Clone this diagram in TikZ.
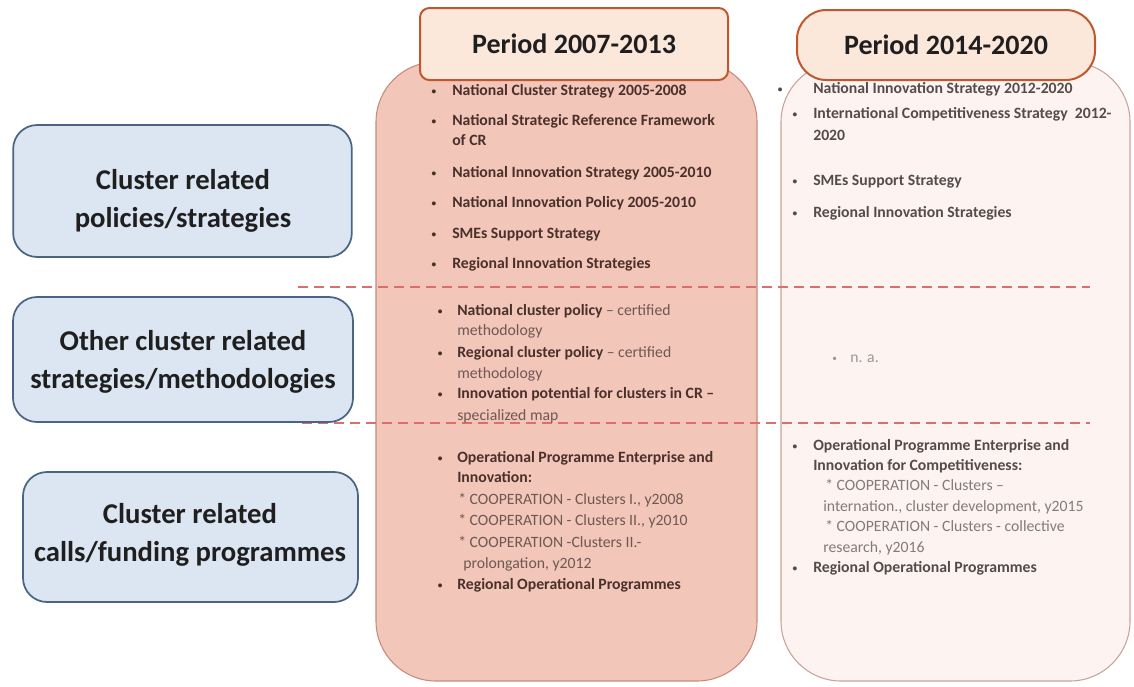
\documentclass[tikz,border=0pt]{standalone}
\usepackage{fontspec}
\setmainfont{Carlito}
\definecolor{midfill}{HTML}{F2C6B8}
\definecolor{midline}{HTML}{C98A7E}
\definecolor{rfill}{HTML}{FDF3F0}
\definecolor{rline}{HTML}{C9A39A}
\definecolor{hfill}{HTML}{FCE7DB}
\definecolor{hline}{HTML}{C0582F}
\definecolor{cfill}{HTML}{DCE6F2}
\definecolor{cline}{HTML}{4A6584}
\definecolor{dashcol}{HTML}{DD6E6E}
\definecolor{mbold}{HTML}{4A302B}
\definecolor{mnorm}{HTML}{6E5853}
\definecolor{rbold}{HTML}{554B48}
\definecolor{rnorm}{HTML}{857A77}
\definecolor{rna}{HTML}{A0948F}
\newcommand{\bul}[1]{\llap{{\fontsize{7}{7}\selectfont\raisebox{0.6pt}{\textbullet}}\hspace{#1}}}
\begin{document}
\begin{tikzpicture}[x=0.75pt,y=-0.75pt,
  bigmid/.style={fill=midfill,draw=midline,line width=0.8pt,rounded corners=45pt},
  bigright/.style={fill=rfill,draw=rline,line width=0.8pt,rounded corners=45pt},
  dashline/.style={draw=dashcol,line width=1.9pt,dash pattern=on 7.5pt off 4.5pt},
  catbox/.style={fill=cfill,draw=cline,line width=1.3pt,rounded corners=18pt,inner sep=0pt},
  cattext/.style={align=center,inner sep=0pt,font=\fontsize{21.5}{28.5}\selectfont\bfseries,text=black!88},
  headbox/.style={fill=hfill,draw=hline,line width=1.5pt,inner sep=0pt,font=\fontsize{21}{25}\selectfont\bfseries,text=black!88},
  mb/.style={anchor=base west,inner sep=0pt,font=\fontsize{11.8}{14}\selectfont\bfseries,text=mbold},
  mn/.style={anchor=base west,inner sep=0pt,font=\fontsize{11.8}{14}\selectfont,text=mnorm},
  rb/.style={anchor=base west,inner sep=0pt,font=\fontsize{11.8}{14}\selectfont\bfseries,text=rbold},
  rn/.style={anchor=base west,inner sep=0pt,font=\fontsize{11.8}{14}\selectfont,text=rnorm}]
\useasboundingbox (0,0) rectangle (1134,686);
\fill[white] (0,0) rectangle (1134,686);

% big column shapes
\draw[bigmid] (376,62) rectangle (757,681);
\draw[bigright] (781,62) rectangle (1130,681);

% dashed separators
\coordinate (d1a) at (298,287);
\coordinate (d1b) at (1090,287);
\coordinate (d2a) at (302,423);
\coordinate (d2b) at (1090,423);
\draw[dashline] (d1a) -- (d1b);
\draw[dashline] (d2a) -- (d2b);

% middle column texts
\node[mb] (m1) at (452,95) {\bul{12pt}National Cluster Strategy 2005-2008};
\node[mb] (m2) at (452,125) {\bul{12pt}National Strategic Reference Framework};
\node[mb] (m3) at (452,145) {of CR};
\node[mb] (m4) at (452,177) {\bul{12pt}National Innovation Strategy 2005-2010};
\node[mb] (m5) at (452,207) {\bul{12pt}National Innovation Policy 2005-2010};
\node[mb] (m6) at (452,238) {\bul{12pt}SMEs Support Strategy};
\node[mb] (m7) at (452,268) {\bul{12pt}Regional Innovation Strategies};
\node[mb] (m8) at (457,315) {\bul{11pt}National cluster policy {\mdseries\color{mnorm}– certified}};
\node[mn] (m9) at (457,335) {methodology};
\node[mb] (m10) at (457,357) {\bul{11pt}Regional cluster policy {\mdseries\color{mnorm}– certified}};
\node[mn] (m11) at (457,378) {methodology};
\node[mb] (m12) at (457,398) {\bul{11pt}Innovation potential for clusters in CR –};
\node[mn] (m13) at (457,420) {specialized map};
\node[mb] (m14) at (457,462) {\bul{11pt}Operational Programme Enterprise and};
\node[mb] (m15) at (457,482) {Innovation:};
\node[mn] (m16) at (458,504) {* COOPERATION - Clusters I., y2008};
\node[mn] (m17) at (458,525) {* COOPERATION - Clusters II., y2010};
\node[mn] (m18) at (458,547) {* COOPERATION -Clusters II.-};
\node[mn] (m19) at (463,568) {prolongation, y2012};
\node[mb] (m20) at (457,589) {\bul{11pt}Regional Operational Programmes};

% right column texts
\node[rb] (r1) at (813,93) {\bul{23pt}National Innovation Strategy 2012-2020};
\node[rb] (r2) at (813,118) {\bul{12pt}International Competitiveness Strategy~~2012-};
\node[rb] (r3) at (813,140) {2020};
\node[rb] (r4) at (813,185) {\bul{12pt}SMEs Support Strategy};
\node[rb] (r5) at (813,217) {\bul{12pt}Regional Innovation Strategies};
\node[rn,text=rna] (r6) at (850,362) {\bul{10pt}n. a.};
\node[rb] (r7) at (813,450) {\bul{12pt}Operational Programme Enterprise and};
\node[rb] (r8) at (813,470) {Innovation for Competitiveness:};
\node[rn] (r9) at (825,490) {* COOPERATION - Clusters –};
\node[rn] (r10) at (823,511) {internation., cluster development, y2015};
\node[rn] (r11) at (825,531) {* COOPERATION - Clusters - collective};
\node[rn] (r12) at (823,552) {research, y2016};
\node[rb] (r13) at (813,572) {\bul{12pt}Regional Operational Programmes};

% headers
\node[headbox,rounded corners=7pt,minimum width=231pt,minimum height=54pt] (h1) at (574,44) {Period 2007-2013};
\node[headbox,rounded corners=22pt,minimum width=223.5pt,minimum height=52.5pt] (h2) at (946,45) {Period 2014-2020};

% left category boxes
\node[catbox,minimum width=254pt,minimum height=99pt] (c1) at (182.5,191) {};
\node[catbox,minimum width=255pt,minimum height=93.75pt] (c2) at (183,359.5) {};
\node[catbox,minimum width=251.25pt,minimum height=97.5pt] (c3) at (190.5,537) {};
\node[cattext] (t1) at (183,201) {Cluster related\\policies/strategies};
\node[cattext] (t2) at (183,362) {Other cluster related\\strategies/methodologies};
\node[cattext] (t3) at (190,535) {Cluster related\\calls/funding programmes};
\end{tikzpicture}
\end{document}
